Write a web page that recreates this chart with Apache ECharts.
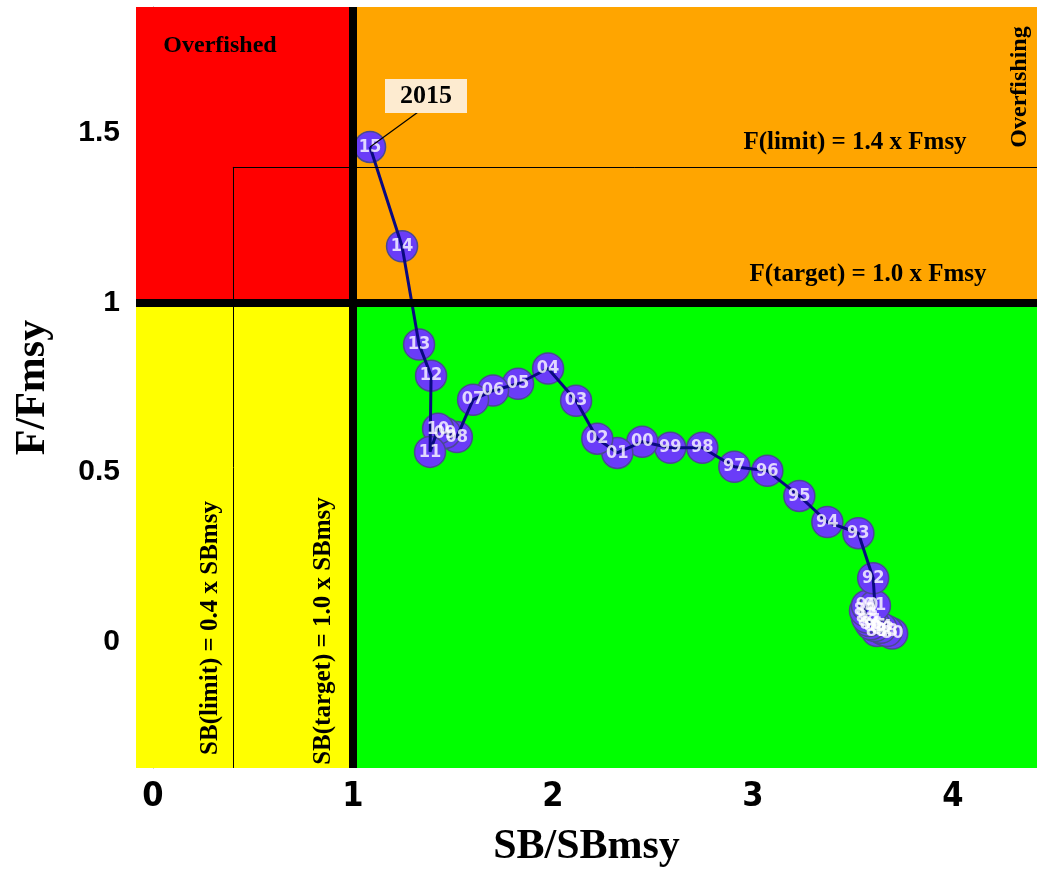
<!DOCTYPE html>
<html>
<head>
<meta charset="utf-8">
<script src="https://cdn.jsdelivr.net/npm/echarts@6/dist/echarts.min.js"></script>
<style>html,body{margin:0;padding:0;background:#fff}#c{width:1038px;height:869px}</style>
</head>
<body>
<div id="c"></div>
<script>
// ---- data ----
var years = ['80','81','82','83','84','85','86','87','88','89','90','91','92','93','94','95','96','97','98','99','00','01','02','03','04','05','06','07','08','09','10','11','12','13','14','15'];
var sbRatio = [3.696,3.62,3.65,3.67,3.64,3.61,3.59,3.58,3.57,3.56,3.57,3.61,3.601,3.527,3.372,3.232,3.072,2.907,2.747,2.587,2.447,2.322,2.222,2.116,1.976,1.826,1.701,1.601,1.520,1.461,1.426,1.386,1.391,1.331,1.246,1.086];
var fRatio  = [0.023,0.030,0.035,0.030,0.040,0.045,0.050,0.060,0.070,0.090,0.105,0.105,0.186,0.319,0.352,0.429,0.503,0.515,0.571,0.571,0.589,0.556,0.598,0.710,0.805,0.760,0.740,0.713,0.603,0.615,0.627,0.559,0.784,0.876,1.166,1.459];
var xTicks = [0,1,2,3,4];
var yTicks = [0,0.5,1,1.5];
var sbTarget = 1.0, sbLimit = 0.4, fTarget = 1.0, fLimit = 1.4;
var lastYearLabel = '2015';

// ---- layout ----
var xMin = -0.084, xMax = 4.42, yMin = -0.374, yMax = 1.872;
var serif = "'Liberation Serif','Times New Roman',serif";
var narrow = "'Liberation Sans Narrow','DejaVu Sans Condensed','Liberation Sans',Arial,sans-serif";

var pts = sbRatio.map(function(v,i){ return [v, fRatio[i]]; });

var chart = echarts.init(document.getElementById('c'), null, {renderer:'canvas'});
var option = {
  animation: false,
  backgroundColor: '#ffffff',
  grid: {left:136, right:1, top:7, bottom:101, containLabel:false, outerBoundsMode:'none'},
  xAxis: {
    type:'value', min:xMin, max:xMax,
    axisLine:{show:false},
    axisTick:{show:true, customValues:xTicks, length:6, lineStyle:{color:'#999'}},
    axisLabel:{customValues:xTicks, margin:12, fontFamily:narrow, fontWeight:'bold', fontSize:34, color:'#000'},
    splitLine:{show:false},
    name:'SB/SBmsy', nameLocation:'middle', nameGap:58,
    nameTextStyle:{fontFamily:serif, fontWeight:'bold', fontSize:42, color:'#000'}
  },
  yAxis: {
    type:'value', min:yMin, max:yMax,
    axisLine:{show:true, lineStyle:{color:'#888', width:1}},
    axisTick:{show:true, customValues:yTicks, length:7, lineStyle:{color:'#999'}},
    axisLabel:{customValues:yTicks, margin:16, fontFamily:"'Liberation Sans',Arial,sans-serif", fontWeight:'bold', fontSize:30, color:'#000',
      formatter:function(v){ return String(v); }},
    splitLine:{show:false},
    name:'F/Fmsy', nameLocation:'middle', nameGap:82, nameRotate:90,
    nameTextStyle:{fontFamily:serif, fontWeight:'bold', fontSize:42, color:'#000'}
  },
  series: [
    {
      type:'line', data:[], silent:true, z:1,
      markArea:{
        silent:true,
        data:[
          [{xAxis:xMin, yAxis:fTarget, itemStyle:{color:'#ff0000'}}, {xAxis:sbTarget, yAxis:yMax}],
          [{xAxis:sbTarget, yAxis:fTarget, itemStyle:{color:'#ffa500'}}, {xAxis:xMax, yAxis:yMax}],
          [{xAxis:xMin, yAxis:yMin, itemStyle:{color:'#ffff00'}}, {xAxis:sbTarget, yAxis:fTarget}],
          [{xAxis:sbTarget, yAxis:yMin, itemStyle:{color:'#00ff00'}}, {xAxis:xMax, yAxis:fTarget}]
        ]
      }
    },
    {
      type:'line', data:[], silent:true, z:2,
      markLine:{
        silent:true, symbol:'none', label:{show:false},
        data:[
          [{coord:[sbLimit, fLimit], lineStyle:{color:'#000', width:1, type:'solid'}}, {coord:[xMax, fLimit]}],
          [{coord:[sbLimit, yMin], lineStyle:{color:'#000', width:1, type:'solid'}}, {coord:[sbLimit, fLimit]}],
          [{coord:[sbTarget, yMin], lineStyle:{color:'#000', width:8, type:'solid'}}, {coord:[sbTarget, yMax]}],
          [{coord:[xMin, fTarget], lineStyle:{color:'#000', width:8, type:'solid'}}, {coord:[xMax, fTarget]}]
        ]
      }
    },
    {
      type:'scatter', data:pts, z:3, symbol:'circle', symbolSize:31,
      itemStyle:{color:'#6a3cf8', borderColor:'#4a4a90', borderWidth:1.5, opacity:1}
    },
    {
      type:'line', data:pts, z:4, symbol:'none',
      lineStyle:{color:'#0a0a80', width:3}
    },
    {
      type:'scatter', data:pts, z:5, symbol:'circle', symbolSize:1,
      itemStyle:{color:'rgba(0,0,0,0)'},
      label:{show:true, position:'inside', color:'#fff', fontWeight:'bold', fontSize:18,
        fontFamily:narrow,
        formatter:function(p){ return years[p.dataIndex]; }}
    }
  ]
};
chart.setOption(option);

// annotations
var last = chart.convertToPixel({gridIndex:0}, pts[pts.length-1]);
var boxX = 385, boxY = 79, boxW = 82, boxH = 34;
var txt = {fontFamily:serif, fontWeight:'bold', fill:'#000'};
chart.setOption({
  graphic:[
    {type:'line', z:10, shape:{x1:last[0], y1:last[1], x2:boxX+40, y2:boxY+boxH-6}, style:{stroke:'#000', lineWidth:1.2}},
    {type:'rect', z:11, shape:{x:boxX, y:boxY, width:boxW, height:boxH}, style:{fill:'#fdebd0'}},
    {type:'text', z:12, x:boxX+boxW/2, y:boxY+boxH/2, style:Object.assign({text:lastYearLabel, fontSize:26, align:'center', verticalAlign:'middle'}, txt)},
    {type:'text', z:12, x:220, y:46, style:Object.assign({text:'Overfished', fontSize:24, align:'center', verticalAlign:'middle'}, txt)},
    {type:'text', z:12, x:1020, y:87, rotation:Math.PI/2, style:Object.assign({text:'Overfishing', fontSize:24, align:'center', verticalAlign:'middle'}, txt)},
    {type:'text', z:12, x:855, y:143, style:Object.assign({text:'F(limit) = 1.4 x Fmsy', fontSize:25, align:'center', verticalAlign:'middle'}, txt)},
    {type:'text', z:12, x:868, y:275, style:Object.assign({text:'F(target) = 1.0 x Fmsy', fontSize:25, align:'center', verticalAlign:'middle'}, txt)},
    {type:'text', z:12, x:211, y:628, rotation:Math.PI/2, style:Object.assign({text:'SB(limit) = 0.4 x SBmsy', fontSize:25, align:'center', verticalAlign:'middle'}, txt)},
    {type:'text', z:12, x:324, y:631, rotation:Math.PI/2, style:Object.assign({text:'SB(target) = 1.0 x SBmsy', fontSize:25, align:'center', verticalAlign:'middle'}, txt)}
  ]
});
</script>
</body>
</html>
